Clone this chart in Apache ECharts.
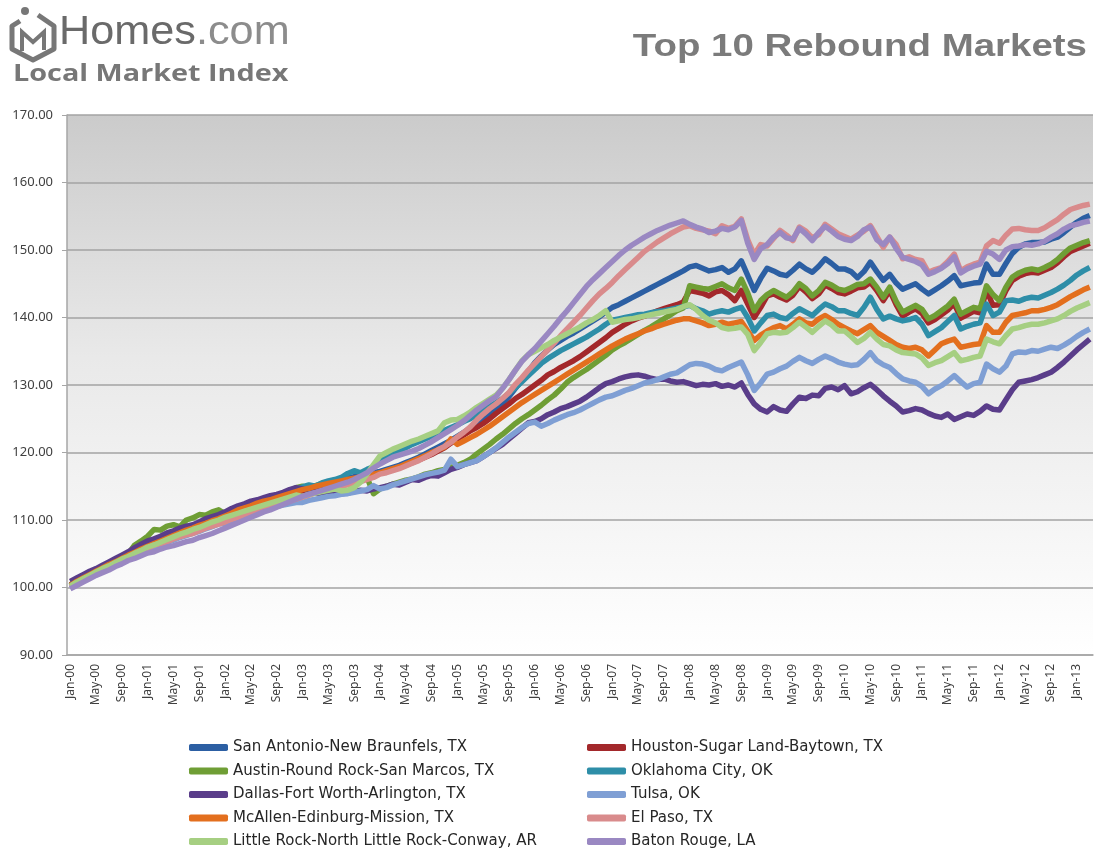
<!DOCTYPE html>
<html>
<head>
<meta charset="utf-8">
<title>Top 10 Rebound Markets</title>
<script src="https://cdn.jsdelivr.net/npm/echarts@6/dist/echarts.min.js"></script>
<style>
  html, body { margin: 0; padding: 0; background: #fff; }
  #chart { width: 1096px; height: 850px; }
</style>
</head>
<body>
<div id="chart"></div>
<script>
// month labels Jan-00 .. Mar-13
const monthNames = ["Jan", "Feb", "Mar", "Apr", "May", "Jun", "Jul", "Aug", "Sep", "Oct", "Nov", "Dec"];
const yearLabels = ["00", "01", "02", "03", "04", "05", "06", "07", "08", "09", "10", "11", "12", "13"];
const lastYearMonths = 3;

const yTicks = { min: 90, max: 170, step: 10 };

const sanAntonio = [
  100.3, 100.9, 101.5, 102.0, 102.5, 103.0, 103.4, 103.9, 104.4, 104.9, 105.3, 105.8,
  106.2, 106.6, 107.0, 107.4, 107.8, 108.2, 108.5, 108.9, 109.3, 109.6, 110.0, 110.3,
  110.7, 111.0, 111.4, 111.7, 112.0, 112.3, 112.6, 112.9, 113.2, 113.5, 113.8, 114.1,
  114.4, 114.7, 115.0, 115.3, 115.5, 115.7, 116.0, 116.2, 116.4, 116.6, 116.8, 117.0,
  117.2, 117.5, 117.8, 118.1, 118.5, 118.9, 119.3, 119.8, 120.3, 120.8, 121.3, 121.8,
  122.4, 123.0, 123.6, 124.2, 124.9, 125.6, 126.4, 127.3, 128.3, 129.5, 130.7, 132.0,
  133.3, 134.3, 135.2, 136.0, 136.6, 137.2, 137.7, 138.3, 138.9, 139.5, 140.1, 140.8,
  141.5, 141.9, 142.4, 142.9, 143.4, 143.9, 144.4, 144.9, 145.4, 145.9, 146.4, 146.9,
  147.5, 147.7, 147.3, 146.9, 147.1, 147.4, 146.7, 147.2, 148.4, 146.2, 144.0, 145.8,
  147.3, 146.9, 146.4, 146.2, 147.0, 147.9, 147.2, 146.7, 147.6, 148.7, 148.0, 147.2,
  147.2, 146.8, 145.9, 146.8, 148.2, 146.8, 145.5, 146.4, 145.1, 144.2, 144.6, 145.0,
  144.2, 143.5, 144.1, 144.7, 145.4, 146.2, 144.7, 144.9, 145.1, 145.2, 147.9, 146.4,
  146.4, 148.0, 149.5, 150.4, 150.9, 151.1, 151.1, 151.2, 151.6, 151.9, 152.6, 153.4,
  154.1, 154.7, 155.1
];
const houston = [
  100.4, 100.9, 101.4, 101.9, 102.4, 102.8, 103.3, 103.8, 104.2, 104.7, 105.2, 105.6,
  106.1, 106.5, 106.9, 107.3, 107.6, 108.0, 108.4, 108.7, 109.0, 109.4, 109.8, 110.1,
  110.5, 110.9, 111.2, 111.6, 111.9, 112.2, 112.5, 112.8, 113.1, 113.4, 113.7, 114.0,
  114.2, 114.5, 114.8, 115.0, 115.2, 115.5, 115.7, 115.9, 116.1, 116.3, 116.5, 116.8,
  116.9, 117.2, 117.5, 117.8, 118.1, 118.5, 118.9, 119.3, 119.7, 120.2, 120.7, 121.4,
  122.0, 122.6, 123.2, 123.7, 124.3, 125.0, 125.8, 126.5, 127.2, 128.0, 128.6, 129.3,
  130.0, 130.7, 131.5, 132.0, 132.6, 133.1, 133.6, 134.2, 134.9, 135.6, 136.3, 137.0,
  137.8, 138.4, 139.0, 139.5, 139.9, 140.2, 140.6, 141.0, 141.3, 141.6, 141.9, 142.3,
  144.0, 143.8, 143.6, 143.2, 143.8, 144.0, 143.4, 142.5, 144.0, 142.0, 140.0, 141.5,
  143.2, 143.5, 143.0, 142.6, 143.3, 144.6, 143.8, 142.8, 143.5, 144.8, 144.3, 143.7,
  143.5, 143.9, 144.4, 144.5, 145.2, 144.0, 142.5, 144.0, 141.9, 140.2, 140.8, 141.3,
  140.6, 139.2, 139.7, 140.4, 141.1, 142.1, 139.9, 140.4, 140.9, 140.7, 144.0, 141.8,
  141.9, 144.0, 145.5, 146.1, 146.5, 146.7, 146.6, 147.0, 147.4, 148.1, 149.0, 149.8,
  150.2, 150.6, 151.0
];
const austin = [
  100.3, 100.9, 101.5, 102.0, 102.5, 103.0, 103.5, 104.0, 104.5, 105.0, 106.3, 106.9,
  107.6, 108.6, 108.5, 109.1, 109.3, 109.0, 110.0, 110.3, 110.8, 110.7, 111.2, 111.5,
  110.9, 111.3, 111.6, 111.9, 112.2, 112.6, 112.9, 113.2, 113.6, 113.9, 114.3, 114.8,
  115.0, 114.8, 115.1, 115.4, 115.3, 115.6, 115.8, 116.0, 115.8, 116.1, 116.3, 113.9,
  114.6, 115.0, 115.3, 115.6, 115.9, 116.1, 116.4, 116.8, 117.0, 117.3, 117.5, 117.8,
  118.1, 118.5, 119.0, 119.8, 120.5, 121.2, 122.0, 122.7, 123.5, 124.3, 125.0, 125.6,
  126.3, 127.0, 127.8, 128.5, 129.4, 130.4, 131.1, 131.7, 132.3, 133.0, 133.7, 134.4,
  135.2, 135.8, 136.3, 136.9, 137.5, 138.1, 138.6, 139.2, 139.8, 140.4, 141.0, 141.4,
  144.7, 144.5, 144.3, 144.2, 144.6, 145.0, 144.4, 144.0, 145.7, 143.6, 141.0, 142.5,
  143.4, 144.0, 143.5, 143.0, 143.8, 145.0, 144.3, 143.2, 144.0, 145.2, 144.8, 144.2,
  144.0, 144.4, 144.9, 145.0, 145.7, 144.5, 143.0, 144.5, 142.4, 140.8, 141.3, 141.8,
  141.2, 139.8, 140.3, 141.0, 141.7, 142.7, 140.5, 141.0, 141.5, 141.3, 144.7, 143.4,
  142.5, 144.5, 146.0, 146.6, 147.0, 147.2, 147.0, 147.4, 147.9, 148.6, 149.5, 150.3,
  150.7, 151.1, 151.4
];
const oklahomaCity = [
  100.2, 100.8, 101.4, 101.9, 102.4, 102.9, 103.4, 103.8, 104.3, 104.8, 105.2, 105.7,
  106.1, 106.5, 106.9, 107.3, 107.7, 108.1, 108.4, 108.8, 109.1, 109.5, 109.9, 110.2,
  110.6, 110.9, 111.3, 111.6, 111.9, 112.3, 112.6, 112.9, 113.3, 113.7, 114.1, 114.5,
  114.9, 115.2, 115.0, 115.5, 115.8, 116.0, 116.3, 116.9, 117.3, 117.0, 117.5, 117.9,
  119.0, 119.4, 119.8, 120.3, 120.7, 121.2, 121.6, 122.0, 122.4, 122.8, 123.3, 123.7,
  124.1, 124.6, 125.0, 125.6, 126.2, 126.8, 127.4, 128.0, 128.8, 129.6, 130.5, 131.4,
  132.3, 133.2, 133.9, 134.5, 135.1, 135.6, 136.1, 136.6, 137.1, 137.7, 138.3, 139.0,
  139.6, 139.8, 140.0, 140.2, 140.4, 140.5, 140.7, 140.9, 141.0, 141.2, 141.4, 141.6,
  141.8, 141.3, 141.0, 140.5, 140.8, 141.0, 140.8, 141.2, 141.5, 140.0, 138.0, 139.2,
  140.3, 140.5, 140.0, 139.8, 140.6, 141.3, 140.8, 140.3, 141.2, 142.0, 141.6, 141.0,
  141.0, 140.6, 140.3, 141.5, 143.0, 141.2, 139.8, 140.2, 139.8, 139.5, 139.7, 140.0,
  139.0, 137.3, 137.9, 138.5, 139.4, 140.3, 138.3, 138.7, 139.0, 139.2, 142.0, 140.3,
  140.8, 142.5, 142.6, 142.4, 142.8, 143.0, 142.9, 143.3, 143.7, 144.2, 144.8, 145.5,
  146.3, 146.9, 147.4
];
const dallas = [
  100.9, 101.4, 101.9, 102.4, 102.8, 103.3, 103.8, 104.3, 104.8, 105.3, 105.9, 106.4,
  106.9, 107.2, 107.6, 108.1, 108.4, 108.8, 109.1, 109.3, 109.7, 110.2, 110.5, 110.8,
  111.2, 111.7, 112.1, 112.4, 112.8, 113.0, 113.3, 113.6, 113.8, 114.1, 114.5, 114.8,
  114.6, 114.3, 114.0, 113.8, 113.9, 114.1, 113.9, 114.0, 114.2, 114.4, 114.3, 114.6,
  114.8, 115.0, 115.3, 115.2, 115.6, 116.0, 115.9, 116.3, 116.6, 116.5, 117.0, 117.5,
  117.8, 118.2, 118.5, 118.8, 119.4, 120.0, 120.6, 121.2, 122.0, 122.8, 123.6, 124.4,
  124.6, 125.0, 125.6, 126.0, 126.5, 126.8, 127.2, 127.6, 128.2, 128.9, 129.6, 130.2,
  130.5, 130.9, 131.2, 131.4, 131.5, 131.3, 131.0, 130.8, 130.9, 130.6, 130.4, 130.5,
  130.2, 129.9, 130.1, 130.0, 130.2, 129.8, 130.0, 129.7, 130.3, 128.6, 127.2, 126.4,
  126.0, 126.8, 126.3, 126.1, 127.2, 128.2, 128.0, 128.5, 128.4, 129.5, 129.7, 129.3,
  129.9, 128.7, 129.0, 129.6, 130.1, 129.3, 128.4, 127.6, 126.9, 126.0, 126.2, 126.5,
  126.3, 125.8, 125.4, 125.2, 125.7, 124.9, 125.3, 125.7, 125.5, 126.1, 126.9, 126.4,
  126.3, 127.8, 129.3, 130.4, 130.6, 130.8, 131.1, 131.5, 131.9, 132.6, 133.4, 134.3,
  135.2, 136.0, 136.8
];
const tulsa = [
  99.9, 100.4, 101.0, 101.5, 101.9, 102.4, 102.9, 103.4, 103.8, 104.2, 104.6, 105.1,
  105.6, 105.9, 106.3, 106.7, 107.0, 107.4, 107.7, 108.0, 108.3, 108.7, 109.0, 109.4,
  109.5, 109.9, 110.2, 110.5, 110.9, 111.2, 111.4, 111.7, 112.0, 112.2, 112.4, 112.6,
  112.6, 112.9, 113.1, 113.3, 113.5, 113.6, 113.8, 113.9, 114.1, 114.3, 114.5, 115.1,
  114.6, 114.8, 115.2, 115.5, 115.8, 116.1, 116.4, 116.7, 116.9, 117.1, 117.4, 119.0,
  117.9, 118.2, 118.5, 118.8, 119.4, 120.0, 120.7, 121.5, 122.3, 123.0, 123.7, 124.3,
  124.5, 123.9, 124.3, 124.8, 125.2, 125.6, 125.9, 126.3, 126.8, 127.3, 127.8, 128.2,
  128.4, 128.8, 129.2, 129.5, 129.9, 130.3, 130.5, 130.8, 131.2, 131.6, 131.8, 132.4,
  133.0, 133.2, 133.1, 132.8, 132.3, 132.1, 132.6, 133.0, 133.4, 131.5, 129.2, 130.3,
  131.6, 131.9, 132.4, 132.8, 133.5, 134.1, 133.6, 133.2, 133.8, 134.3, 133.9, 133.4,
  133.1, 132.9, 133.0, 133.8, 134.8, 133.6, 133.0, 132.6, 131.7, 130.9, 130.6, 130.4,
  129.8, 128.7, 129.4, 129.9, 130.6, 131.4, 130.5, 129.7, 130.2, 130.4, 133.1, 132.4,
  131.9, 132.8, 134.6, 134.9, 134.8, 135.1, 135.0, 135.3, 135.6, 135.4, 135.9, 136.5,
  137.2, 137.8, 138.3
];
const mcAllen = [
  100.3, 100.9, 101.4, 101.9, 102.4, 102.9, 103.4, 103.8, 104.3, 104.8, 105.2, 105.7,
  106.1, 106.5, 106.9, 107.3, 107.7, 108.1, 108.5, 108.8, 109.2, 109.5, 109.9, 110.2,
  110.6, 111.0, 111.5, 111.8, 112.1, 112.5, 112.8, 113.0, 113.3, 113.6, 113.9, 114.2,
  114.5, 114.7, 115.0, 115.2, 115.4, 115.6, 115.8, 116.0, 116.2, 116.4, 116.6, 116.8,
  117.0, 117.3, 117.6, 117.9, 118.3, 118.7, 119.1, 119.5, 120.0, 120.4, 120.8, 122.0,
  121.2, 121.7, 122.2, 122.7, 123.3, 123.9, 124.6, 125.3, 126.0, 126.7, 127.4, 128.0,
  128.6, 129.2, 129.8, 130.4, 131.0, 131.6, 132.2, 132.8, 133.4, 134.0, 134.6, 135.2,
  135.8, 136.3, 136.8, 137.2, 137.6, 138.0, 138.3, 138.7, 139.0, 139.3, 139.6, 139.8,
  139.8, 139.5, 139.2, 138.8, 139.0, 139.3, 139.0, 139.2, 139.4, 138.0, 136.6, 137.4,
  138.0, 138.5, 138.8, 138.3, 139.0, 139.8, 139.2, 139.0, 139.8, 140.3, 139.7, 139.0,
  138.5, 138.0, 137.6, 138.2, 138.8, 137.8, 137.2, 136.6, 136.0, 135.6, 135.4, 135.6,
  135.2, 134.3, 135.2, 136.1, 136.5, 136.8, 135.6, 135.8, 136.0, 136.1, 138.8, 137.8,
  137.8, 139.3, 140.3, 140.5, 140.7, 141.0, 141.0, 141.2, 141.5, 141.9, 142.5, 143.1,
  143.6, 144.1, 144.5
];
const elPaso = [
  100.1, 100.7, 101.2, 101.7, 102.2, 102.7, 103.1, 103.6, 104.0, 104.5, 104.9, 105.3,
  105.8, 106.3, 106.5, 106.8, 107.2, 107.5, 107.8, 108.0, 108.4, 108.8, 109.1, 109.4,
  109.7, 110.1, 110.4, 110.7, 111.0, 111.3, 111.6, 111.9, 112.2, 112.5, 112.8, 113.1,
  113.4, 113.7, 114.0, 114.3, 114.5, 114.7, 115.0, 115.2, 115.5, 115.7, 116.0, 116.3,
  116.8, 117.0, 117.3, 117.6, 118.0, 118.4, 118.8, 119.3, 119.8, 120.4, 120.9, 121.5,
  122.3, 123.0, 123.8, 124.8, 125.7, 126.5, 127.2, 128.0, 128.9, 130.1, 131.1, 132.2,
  133.2, 134.2, 135.2, 136.2, 137.3, 138.3, 139.3, 140.3, 141.4, 142.5, 143.5, 144.3,
  145.2, 146.2, 147.1, 148.0, 148.9, 149.8, 150.5, 151.2, 151.8, 152.4, 152.9, 153.4,
  153.6, 153.2, 153.0, 152.8, 152.4, 153.6, 153.2, 153.5, 154.6, 151.5, 149.3, 150.8,
  150.6, 151.7, 152.9, 152.2, 151.4, 153.4, 152.8, 151.8, 152.3, 153.8, 153.1, 152.4,
  152.0, 151.6, 152.2, 152.8, 153.6, 152.0, 150.4, 151.9, 150.8, 148.7, 149.0, 148.6,
  148.4, 146.7, 147.1, 147.4, 148.3, 149.4, 146.9, 147.5, 147.9, 148.2, 150.6, 151.4,
  151.0, 152.2, 153.1, 153.2, 153.0, 152.9, 152.9, 153.3, 153.9, 154.5, 155.3, 156.0,
  156.3, 156.6, 156.8
];
const littleRock = [
  100.2, 100.8, 101.3, 101.8, 102.3, 102.8, 103.2, 103.7, 104.2, 104.6, 105.1, 105.5,
  106.0, 106.3, 106.7, 107.1, 107.5, 107.9, 108.2, 108.6, 108.9, 109.3, 109.7, 110.0,
  110.4, 110.7, 111.0, 111.3, 111.6, 111.9, 112.2, 112.5, 112.8, 113.1, 113.4, 113.7,
  113.5, 113.8, 114.0, 114.2, 114.4, 114.6, 114.3, 114.4, 114.8, 115.6, 116.8, 118.2,
  119.5, 120.0, 120.5, 120.9, 121.3, 121.7, 122.0, 122.4, 122.8, 123.2, 124.4, 124.8,
  124.9, 125.4, 126.0, 126.7, 127.3, 127.9, 128.5, 129.5, 130.8, 132.2, 133.6, 134.5,
  135.0, 135.5, 136.0, 136.6, 137.1, 137.6, 138.1, 138.6, 139.2, 139.7, 140.3, 141.0,
  139.3, 139.5, 139.7, 139.8, 140.0, 140.2, 140.4, 140.6, 140.8, 141.0, 141.2, 141.6,
  141.9, 141.2, 140.3, 139.6, 139.2, 138.5, 138.3, 138.4, 138.6, 137.5, 135.1, 136.3,
  137.6, 137.8, 137.7, 137.8, 138.5, 139.3, 138.6, 137.8, 138.7, 139.5, 138.9, 138.0,
  138.0, 137.2, 136.3, 136.9, 137.8, 136.8, 136.0, 135.8, 135.2, 134.8, 134.7, 134.6,
  134.0, 132.9, 133.3, 133.6, 134.2, 134.8, 133.6, 133.8, 134.1, 134.3, 136.8, 136.4,
  136.1, 137.3, 138.3, 138.5, 138.8, 139.0, 139.0, 139.2, 139.5, 139.8, 140.3, 140.9,
  141.4, 141.8, 142.2
];
const batonRouge = [
  99.8, 100.3, 100.8, 101.3, 101.8, 102.2, 102.6, 103.1, 103.5, 104.0, 104.3, 104.7,
  105.1, 105.3, 105.7, 106.0, 106.2, 106.5, 106.8, 107.0, 107.4, 107.7, 108.0, 108.4,
  108.8, 109.2, 109.6, 110.0, 110.4, 110.8, 111.2, 111.5, 111.9, 112.3, 112.7, 113.1,
  113.5, 113.8, 114.1, 114.4, 114.7, 115.0, 115.3, 115.6, 116.0, 116.5, 117.0, 117.7,
  118.3, 118.8, 119.3, 119.6, 119.9, 120.2, 120.6, 121.1, 121.6, 122.2, 122.8, 123.4,
  124.0, 124.7, 125.5, 126.3, 127.0, 127.7, 128.3, 129.5, 130.8, 132.2, 133.5, 134.5,
  135.4, 136.5, 137.6, 138.7, 139.9, 141.0, 142.2, 143.4, 144.6, 145.6, 146.5, 147.4,
  148.3, 149.2, 150.0, 150.7, 151.3, 151.9, 152.4, 152.9, 153.3, 153.7, 154.0, 154.3,
  153.8, 153.4, 153.1, 152.6, 152.8, 153.2, 153.0, 153.4, 154.4, 151.0, 148.6, 150.2,
  150.8, 151.9, 152.6, 151.8, 151.6, 153.2, 152.4, 151.4, 152.6, 153.5, 152.8, 152.0,
  151.6, 151.4, 152.0, 153.0, 153.4, 151.5, 150.8, 151.9, 150.2, 148.9, 148.6, 148.3,
  147.8, 146.4, 146.8, 147.3, 148.0, 149.0, 146.6, 147.2, 147.6, 147.9, 149.8, 149.4,
  148.6, 150.0, 150.5, 150.6, 150.8, 150.7, 150.9, 151.3, 151.9, 152.4, 153.1, 153.6,
  153.8, 154.1, 154.3
];

// order matches the legend, read row by row
const seriesNames = [
  "San Antonio-New Braunfels, TX", "Houston-Sugar Land-Baytown, TX",
  "Austin-Round Rock-San Marcos, TX", "Oklahoma City, OK",
  "Dallas-Fort Worth-Arlington, TX", "Tulsa, OK",
  "McAllen-Edinburg-Mission, TX", "El Paso, TX",
  "Little Rock-North Little Rock-Conway, AR", "Baton Rouge, LA"
];
const seriesData = [sanAntonio, houston, austin, oklahomaCity, dallas, tulsa, mcAllen, elPaso, littleRock, batonRouge];
const seriesColors = ["#2c5fa3", "#a3282b", "#6f9e35", "#2e8ea8", "#5a3d8a", "#7f9fd4", "#e36f1e", "#d98b8c", "#a6cf82", "#9a88c2"];

let categories = [];
yearLabels.forEach((y, i) => {
  let n = i === yearLabels.length - 1 ? lastYearMonths : 12;
  for (let k = 0; k < n; k++) categories.push(monthNames[k] + "-" + y);
});

let myChart = echarts.init(document.getElementById("chart"));

const legendStyle = {
  orient: "vertical",
  top: 734,
  height: 200, // keep each legend in one column
  icon: "roundRect",
  itemWidth: 39,
  itemHeight: 7,
  itemGap: 6.5,
  selectedMode: false,
  textStyle: { fontFamily: "DejaVu Sans", fontSize: 15, color: "#262626", lineHeight: 17 }
};

let option = {
  backgroundColor: "#fff",
  animation: false,
  graphic: [
    // house mark
    {
      type: "polyline",
      shape: { points: [[20, 21], [12, 26], [12, 49], [33, 60], [54, 49], [54, 26], [38, 15]] },
      style: { stroke: "#777777", lineWidth: 5, fill: null, lineJoin: "round" }
    },
    {
      type: "polyline",
      shape: { points: [[22, 51], [22, 32], [33, 42], [44, 32], [44, 50]] },
      style: { stroke: "#777777", lineWidth: 4, fill: null }
    },
    { type: "circle", shape: { cx: 25, cy: 11, r: 4 }, style: { fill: "#777777" } },
    {
      type: "text", x: 59, y: 33, scaleX: 1.08,
      style: { text: "Homes", font: "40px 'Liberation Sans'", fill: "#6a6a6a", textVerticalAlign: "middle" }
    },
    {
      type: "text", x: 196, y: 33, scaleX: 1.08,
      style: { text: ".com", font: "40px 'Liberation Sans'", fill: "#8c8c8c", textVerticalAlign: "middle" }
    },
    {
      type: "text", x: 13, y: 74, scaleX: 1.2,
      style: { text: "Local Market Index", font: "bold 24px 'Open Sans'", fill: "#777777", textVerticalAlign: "middle" }
    },
    {
      type: "text", x: 1087, y: 47, scaleX: 1.24,
      style: { text: "Top 10 Rebound Markets", font: "bold 31px 'Liberation Sans'", fill: "#7b7b7b", textAlign: "right", textVerticalAlign: "middle" }
    }
  ],
  legend: [
    Object.assign({ left: 184, data: seriesNames.filter((n, i) => i % 2 === 0) }, legendStyle),
    Object.assign({ left: 582, data: seriesNames.filter((n, i) => i % 2 === 1) }, legendStyle)
  ],
  grid: {
    left: 67,
    right: 3,
    top: 115,
    bottom: 195,
    show: true,
    borderWidth: 0,
    backgroundColor: new echarts.graphic.LinearGradient(0, 0, 0, 1, [
      { offset: 0, color: "#cbcbcb" },
      { offset: 0.45, color: "#e9e9e9" },
      { offset: 1, color: "#ffffff" }
    ])
  },
  xAxis: {
    type: "category",
    boundaryGap: true,
    data: categories,
    axisLine: { lineStyle: { color: "#a6a6a6", width: 1.5 } },
    axisTick: { interval: 3, length: 5, lineStyle: { color: "#a6a6a6" } },
    axisLabel: {
      interval: 3,
      rotate: 90,
      margin: 9,
      fontFamily: "Noto Sans",
      fontSize: 12,
      color: "#404040"
    },
    splitLine: { show: false }
  },
  yAxis: {
    type: "value",
    min: yTicks.min,
    max: yTicks.max,
    interval: yTicks.step,
    axisLine: { show: true, lineStyle: { color: "#a6a6a6", width: 1.5 } },
    axisTick: { show: true, length: 5, lineStyle: { color: "#a6a6a6" } },
    axisLabel: {
      margin: 14,
      fontFamily: "Noto Sans",
      fontSize: 13,
      color: "#404040",
      formatter: (v) => v.toFixed(2)
    },
    splitLine: { lineStyle: { color: "#a3a3a3", width: 1.5 } }
  },
  series: seriesNames.map((name, i) => ({
    name: name,
    type: "line",
    data: seriesData[i],
    symbol: "none",
    lineStyle: { width: 5.5, color: seriesColors[i], join: "round" },
    itemStyle: { color: seriesColors[i] }
  }))
};
myChart.setOption(option);
</script>
</body>
</html>
